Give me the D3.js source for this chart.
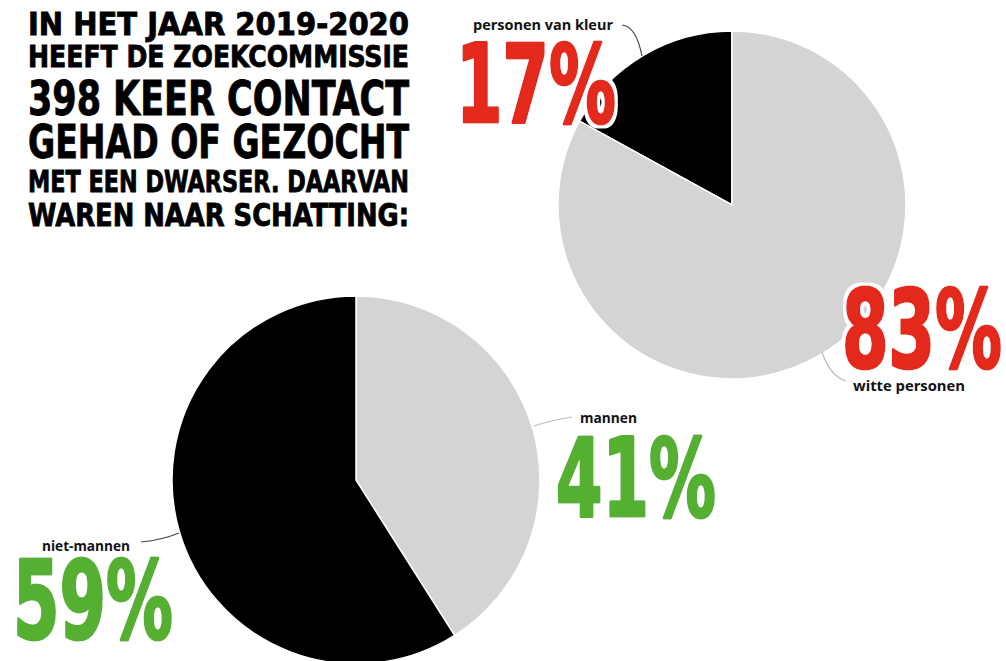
<!DOCTYPE html>
<html><head><meta charset="utf-8">
<script src="https://cdn.jsdelivr.net/npm/d3@7"></script>
<style>body{margin:0;background:#fff}svg{display:block}</style>
</head><body>
<svg id="c" width="1006" height="661"></svg>
<script>
const headlineLines = ["IN HET JAAR 2019-2020","HEEFT DE ZOEKCOMMISSIE","398 KEER CONTACT","GEHAD OF GEZOCHT","MET EEN DWARSER. DAARVAN","WAREN NAAR SCHATTING:"];
const raceCategories = ["personen van kleur","witte personen"];
const raceValues = [17, 83];
const genderCategories = ["mannen","niet-mannen"];
const genderValues = [41, 59];

const svg = d3.select("#c");
const RED = "#e4291a", GREEN = "#55b031", GREY = "#d4d4d4";

// halo filter
const f = svg.append("defs").append("filter").attr("id","halo")
  .attr("x","-10%").attr("y","-10%").attr("width","120%").attr("height","120%");
f.append("feMorphology").attr("in","SourceAlpha").attr("operator","dilate").attr("radius",3).attr("result","d");
f.append("feFlood").attr("flood-color","#fff").attr("result","w");
f.append("feComposite").attr("in","w").attr("in2","d").attr("operator","in").attr("result","h");
const m = f.append("feMerge");
m.append("feMergeNode").attr("in","h");
m.append("feMergeNode").attr("in","SourceGraphic");

// headline
const hl = [
  {y:35, fs:31.5}, {y:67, fs:30}, {y:115, fs:48}, {y:158, fs:47}, {y:192, fs:30}, {y:226, fs:32}
];
svg.append("g").selectAll("text").data(headlineLines).join("text")
  .attr("x", 28).attr("y", (d,i)=>hl[i].y)
  .attr("font-family","'DejaVu Sans Condensed','DejaVu Sans',sans-serif")
  .attr("font-weight","bold")
  .attr("font-size",(d,i)=>hl[i].fs)
  .attr("textLength", 381).attr("lengthAdjust","spacingAndGlyphs")
  .attr("fill","#000").attr("stroke","#000").attr("stroke-width",0.8).text(d=>d);

function drawPie(cx, cy, r, values, start, colors){
  const pie = d3.pie().sort(null).startAngle(start).endAngle(start + 2*Math.PI);
  const arc = d3.arc().innerRadius(0).outerRadius(r);
  svg.append("g").attr("transform",`translate(${cx},${cy})`)
    .selectAll("path").data(pie(values)).join("path")
    .attr("d", arc).attr("fill",(d,i)=>colors[i])
    .attr("stroke","#fff").attr("stroke-width",1.5);
}
drawPie(732, 205, 174, raceValues, -raceValues[0]/100*2*Math.PI, ["#000", GREY]);
drawPie(356, 480, 184, genderValues, 0, [GREY, "#000"]);

// leader lines
const leaders = [
  {d:"M622,25 Q636,26 642,56", c:"#444"},
  {d:"M822,352 Q830,376 846,381", c:"#bbb"},
  {d:"M534,426 Q552,420 572,417", c:"#bbb"},
  {d:"M141,542 Q162,540 179,533", c:"#444"}
];
svg.append("g").selectAll("path").data(leaders).join("path")
  .attr("d",d=>d.d).attr("fill","none").attr("stroke",d=>d.c).attr("stroke-width",1.2);

// small labels
const labels = [
  {t:raceCategories[0], x:473, y:30, w:140},
  {t:raceCategories[1], x:853, y:391, w:112},
  {t:genderCategories[0], x:580, y:423, w:57},
  {t:genderCategories[1], x:42, y:551, w:88}
];
svg.append("g").selectAll("text").data(labels).join("text")
  .attr("x",d=>d.x).attr("y",d=>d.y)
  .attr("font-family","'Open Sans',sans-serif").attr("font-weight","bold")
  .attr("font-size",14).attr("textLength",d=>d.w).attr("lengthAdjust","spacingAndGlyphs")
  .attr("fill","#111").text(d=>d.t);

// big numbers
const bigs = [
  {v:raceValues[0], x:456, y:122, c:RED},
  {v:raceValues[1], x:842, y:367, c:RED},
  {v:genderValues[0], x:556, y:516, c:GREEN},
  {v:genderValues[1], x:13, y:638, c:GREEN}
];
svg.append("g").selectAll("text").data(bigs).join("text")
  .attr("x",d=>d.x).attr("y",d=>d.y)
  .attr("font-family","'DejaVu Sans Condensed','DejaVu Sans',sans-serif").attr("font-weight","bold")
  .attr("font-size",108).attr("textLength",160).attr("lengthAdjust","spacingAndGlyphs")
  .attr("fill",d=>d.c).attr("stroke",d=>d.c).attr("stroke-width",3).attr("stroke-linejoin","round")
  .attr("filter","url(#halo)")
  .text(d=>d.v+"%");
</script>
</body></html>
